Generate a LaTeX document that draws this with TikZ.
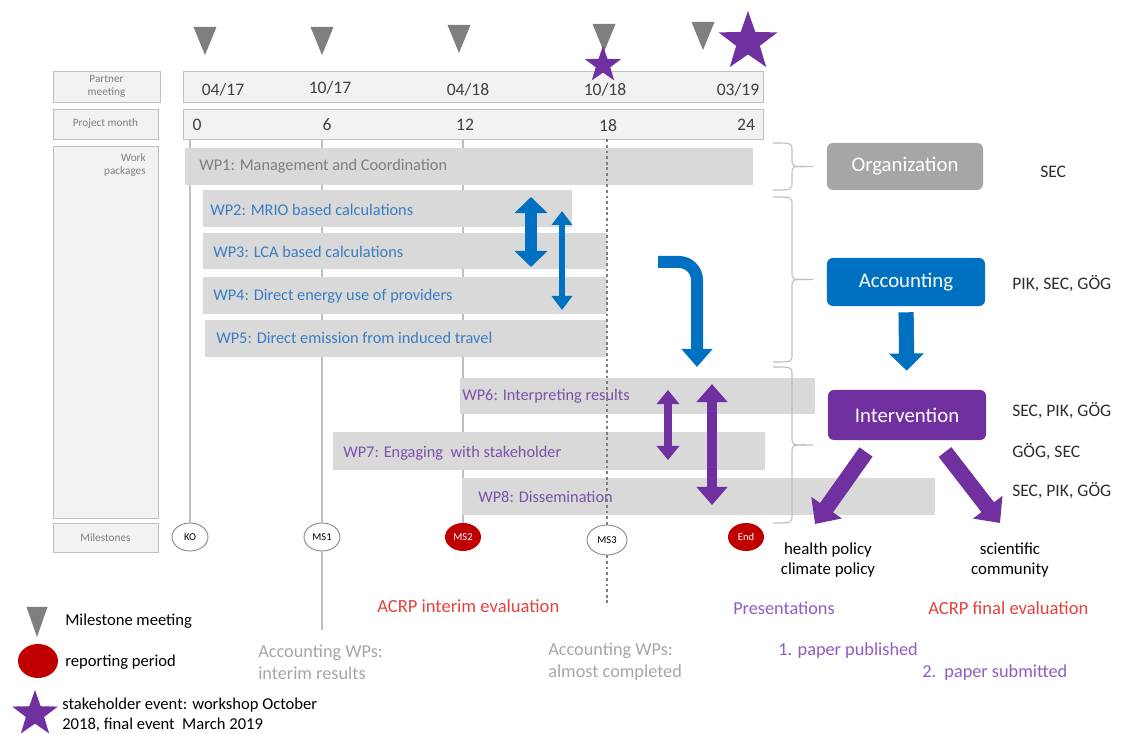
\documentclass[tikz,border=0pt]{standalone}
\usepackage{fontspec}
\setmainfont{Carlito}
\usepackage{xcolor}
\usepackage{tikz}
\usetikzlibrary{arrows.meta,shapes.geometric,positioning}
\definecolor{barGrey}{HTML}{D9D9D9}
\definecolor{boxFill}{HTML}{F2F2F2}
\definecolor{boxLine}{HTML}{BFBFBF}
\definecolor{triGrey}{HTML}{7F7F7F}
\definecolor{orgGrey}{HTML}{A6A6A6}
\definecolor{accBlue}{HTML}{0070C0}
\definecolor{intPurple}{HTML}{7030A0}
\definecolor{msRed}{HTML}{C00000}
\definecolor{wpBlue}{HTML}{3A7DC4}
\definecolor{wpPurple}{HTML}{7B52AB}
\definecolor{evalRed}{HTML}{E3413C}
\definecolor{presPurple}{HTML}{8E5CC2}
\definecolor{noteGrey}{HTML}{A6A6A6}
\definecolor{dateGrey}{HTML}{404040}
\newcommand\meetmark[4]{\fill[triGrey,shift={(#1,#2)}] (-#3,-#4) -- (#3,-#4) -- (0,#4) -- cycle;}
\newcommand\curly[3]{%
\pgfmathsetmacro\midy{(#2+#3)/2}
\draw[boxLine,line width=0.8pt] (#1,#2) .. controls ({#1+19},#2) .. ({#1+19},{#2+8}) -- ({#1+19},{\midy-8}) .. controls ({#1+19},\midy) .. ({#1+33},\midy) -- ({#1+40},\midy);
\draw[boxLine,line width=0.8pt] (#1,#3) .. controls ({#1+19},#3) .. ({#1+19},{#3-8}) -- ({#1+19},{\midy+8}) .. controls ({#1+19},\midy) .. ({#1+33},\midy);}

\begin{document}
\begin{tikzpicture}[x=0.025cm,y=-0.025cm]
\tikzstyle{lbox}=[rectangle,draw=boxLine,fill=boxFill,line width=0.6pt,inner sep=0,text=triGrey,font=\fontsize{8}{9}\selectfont,align=center];
\tikzstyle{bar}=[rectangle,fill=barGrey,inner sep=0,anchor=west];
\tikzstyle{wptext}=[anchor=west,inner sep=0,font=\fontsize{11.6}{13}\selectfont];
\tikzstyle{datetext}=[inner sep=0,text=dateGrey,font=\fontsize{12.5}{14}\selectfont];
\tikzstyle{mstone}=[ellipse,draw=triGrey,fill=white,line width=0.6pt,minimum width=0.9cm,minimum height=0.7cm,inner sep=0,font=\fontsize{7.5}{8}\selectfont];
\tikzstyle{redstone}=[ellipse,fill=msRed,minimum width=0.9cm,minimum height=0.7cm,inner sep=0,text=white,font=\fontsize{7.5}{8}\selectfont];
\tikzstyle{group}=[rectangle,rounded corners=0.15cm,inner sep=0,text=white,font=\fontsize{14.8}{16}\selectfont];
\tikzstyle{partner}=[anchor=west,inner sep=0,text=dateGrey!70!black,font=\fontsize{12.5}{14}\selectfont];
\tikzstyle{note}=[anchor=west,inner sep=0,align=left];
\tikzstyle{vline}=[boxLine,line width=0.9pt];
\tikzstyle{event}=[star,star points=5,star point ratio=2.5,fill=intPurple,inner sep=0];
\useasboundingbox (0,0) rectangle (1127,734);

\meetmark{205}{41}{11.5}{14}
\meetmark{322}{41}{11.5}{14}
\meetmark{459}{39}{11.5}{14}
\meetmark{604}{38}{11.5}{14}
\meetmark{703}{36}{11.5}{14}
\node[event,minimum size=1.55cm] (bigstar) at (748,42) {};

\node[lbox,minimum width=2.675cm,minimum height=0.775cm] (pmlabel) at (106.5,86.5) {Partner\\meeting};
\node[lbox,minimum width=2.625cm,minimum height=0.75cm] (mlabel) at (105.5,124) {Project month};
\node[lbox,minimum width=2.625cm,minimum height=9.3cm] (wplabel) at (105.5,332) {};
\node[inner sep=0,text=triGrey,font=\fontsize{8}{9.5}\selectfont,align=right,anchor=north east] (wplabtext) at (146,153) {Work\\packages};
\node[lbox,minimum width=2.625cm,minimum height=0.725cm] (mslabel) at (105.5,537.5) {Milestones};

\node[lbox,minimum width=14.5cm,minimum height=0.775cm] (pmbox) at (473,86.5) {};
\node[lbox,minimum width=14.5cm,minimum height=0.75cm] (monthbox) at (473,124) {};
\node[event,minimum size=0.95cm] (smallstar) at (603,65) {};
\node[datetext] (d1) at (223,90) {04/17};
\node[datetext] (d2) at (330,88) {10/17};
\node[datetext] (d3) at (468,90) {04/18};
\node[datetext] (d4) at (605,90) {10/18};
\node[datetext] (d5) at (738,90) {03/19};
\node[datetext] (m1) at (197,125) {0};
\node[datetext] (m2) at (327,125) {6};
\node[datetext] (m3) at (465,125) {12};
\node[datetext] (m4) at (608,126) {18};
\node[datetext] (m5) at (746,125) {24};

\node[mstone] (ko) at (190,537) {KO};
\node[mstone] (ms1) at (322,537) {MS1};
\node[redstone] (ms2) at (463,537) {MS2};
\node[mstone,minimum width=1cm,minimum height=0.75cm] (ms3) at (607,540) {MS3};
\node[redstone] (end) at (746,537) {End};

\node[note,text=noteGrey,font=\fontsize{13}{15.5}\selectfont] (iwp) at (258,662) {Accounting WPs:\\interim results};
\node[note,text=noteGrey,font=\fontsize{13}{15.5}\selectfont] (awp) at (548,662) {Accounting WPs:\\almost completed};

\draw[vline] (ko.north) -- (ko |- monthbox.south);
\draw[vline] (ms1.north) -- (ms1 |- monthbox.south);
\draw[vline] (ms1.south) -- ([yshift=0.35cm]ms1 |- iwp.north);
\draw[vline] (ms2.north) -- (ms2 |- monthbox.south);

\node[bar,minimum width=14.2cm,minimum height=0.925cm] (wp1bar) at (185,166.5) {};
\node[bar,minimum width=9.225cm,minimum height=0.925cm] (wp2bar) at (203,208.5) {};
\node[bar,minimum width=10.1cm,minimum height=0.9cm] (wp3bar) at (203,251) {};
\node[bar,minimum width=10.1cm,minimum height=0.925cm] (wp4bar) at (203,295.5) {};
\node[bar,minimum width=10.05cm,minimum height=0.925cm] (wp5bar) at (205,338.5) {};
\node[bar,minimum width=8.875cm,minimum height=0.9cm] (wp6bar) at (460,396) {};
\node[bar,minimum width=10.8cm,minimum height=0.95cm] (wp7bar) at (333,451) {};
\node[bar,minimum width=11.825cm,minimum height=0.925cm] (wp8bar) at (462,496.5) {};

\node[wptext,text=triGrey] (wp1) at (199,166) {WP1: Management and Coordination};
\node[wptext,text=wpBlue] (wp2) at (210,210) {WP2: MRIO based calculations};
\node[wptext,text=wpBlue] (wp3) at (213,252) {WP3: LCA based calculations};
\node[wptext,text=wpBlue] (wp4) at (213,296) {WP4: Direct energy use of providers};
\node[wptext,text=wpBlue] (wp5) at (216,338) {WP5: Direct emission from induced travel};
\node[wptext,text=wpPurple] (wp6) at (462,396) {WP6: Interpreting results};
\node[wptext,text=wpPurple] (wp7) at (343,453) {WP7: Engaging\ \ with stakeholder};
\node[wptext,text=wpPurple] (wp8) at (478,497) {WP8: Dissemination};

\draw[triGrey,line width=0.8pt,dash pattern=on 2pt off 2pt] (ms3.north) -- (ms3 |- monthbox.south);
\draw[triGrey,line width=0.8pt,dash pattern=on 2pt off 2pt] (ms3.south) -- ([yshift=0.95cm]ms3 |- awp.north);

\coordinate (a1t) at (531,197);
\coordinate (a1b) at (531,267);
\coordinate (a2t) at (562,211);
\coordinate (a2b) at (562,310);
\coordinate (hookS) at (658,262);
\coordinate (hookE) at (697,367);
\coordinate (p1t) at (668,390);
\coordinate (p1b) at (668,460);
\coordinate (p2t) at (712,384);
\coordinate (p2b) at (712,505);
\draw[accBlue,line width=3.2mm,{Triangle[width=8mm,length=4mm]}-{Triangle[width=8mm,length=4mm]}] (a1t) -- (a1b);
\draw[accBlue,line width=1.5mm,{Triangle[width=5mm,length=3.5mm]}-{Triangle[width=5mm,length=3.5mm]}] (a2t) -- (a2b);
\draw[accBlue,line width=3mm,rounded corners=0.45cm,-{Triangle[width=7.5mm,length=4.5mm]}] (hookS) -| (hookE);
\draw[intPurple,line width=1.8mm,{Triangle[width=5.5mm,length=3.5mm]}-{Triangle[width=5.5mm,length=3.5mm]}] (p1t) -- (p1b);
\draw[intPurple,line width=2.6mm,{Triangle[width=7.5mm,length=4.5mm]}-{Triangle[width=7.5mm,length=4.5mm]}] (p2t) -- (p2b);

\curly{773}{143}{190}
\curly{773}{197}{362}
\curly{773}{367}{523}

\node[group,fill=orgGrey,minimum width=3.9cm,minimum height=1.175cm] (org) at (905,166.5) {Organization};
\node[group,fill=accBlue,minimum width=3.95cm,minimum height=1.2cm] (acc) at (906,282) {Accounting};
\node[group,fill=intPurple,minimum width=3.95cm,minimum height=1.25cm] (int) at (907,415) {Intervention};
\node[partner] (sec) at (1040,172) {SEC};
\node[partner] (accp) at (1012,284) {PIK, SEC, GÖG};
\node[partner] (wp6p) at (1012,411) {SEC, PIK, GÖG};
\node[partner] (wp7p) at (1012,452) {GÖG, SEC};
\node[partner] (wp8p) at (1012,491) {SEC, PIK, GÖG};

\draw[accBlue,line width=3.8mm,-{Triangle[width=8.5mm,length=4.3mm]},shorten <=0.15cm,shorten >=0.475cm] (acc.south) -- (int.north);

\node[inner sep=0,align=center,font=\fontsize{12}{14}\selectfont] (health) at (828,560) {health policy\\climate policy};
\node[inner sep=0,align=center,font=\fontsize{12}{14}\selectfont] (science) at (1010,560) {scientific\\community};
\coordinate (hpS) at (866,452);
\coordinate (hpE) at (815,524);
\coordinate (scS) at (945,452);
\coordinate (scE) at (1000,523);
\draw[intPurple,line width=4mm,-{Triangle[width=9mm,length=5mm]}] (hpS) -- (hpE);
\draw[intPurple,line width=4mm,-{Triangle[width=9mm,length=5mm]}] (scS) -- (scE);

\node[note,text=evalRed,font=\fontsize{13.2}{15}\selectfont] (interim) at (377,606) {ACRP interim evaluation};
\node[note,text=presPurple,font=\fontsize{13}{15}\selectfont] (pres) at (733,608) {Presentations};
\node[note,text=evalRed,font=\fontsize{13.2}{15}\selectfont] (final) at (928,608) {ACRP final evaluation};
\node[note,text=presPurple,font=\fontsize{13}{15}\selectfont] (paper1) at (778,651) {1. paper published};
\node[note,text=presPurple,font=\fontsize{13}{15}\selectfont] (paper2) at (922,673) {2.\ \ paper submitted};

\meetmark{37}{622}{10.5}{15}
\node[note,font=\fontsize{11.8}{14}\selectfont] (legmeet) at (65,621) {Milestone meeting};
\node[ellipse,fill=msRed,minimum width=1cm,minimum height=0.85cm,inner sep=0] (legred) at (38,661) {};
\node[note,font=\fontsize{11.8}{14}\selectfont] (legrep) at (65,662) {reporting period};
\node[event,minimum size=1.2cm] (legstar) at (35,714) {};
\node[note,font=\fontsize{11.8}{14.2}\selectfont] (legevent) at (62,715) {stakeholder event: workshop October\\2018, final event\ \ March 2019};
\end{tikzpicture}
\end{document}
